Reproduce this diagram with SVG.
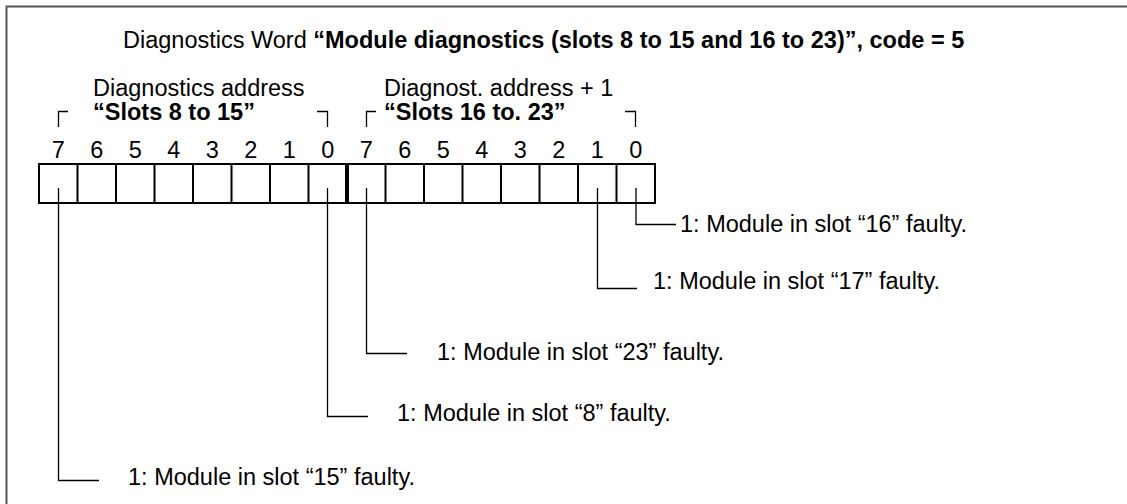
<svg xmlns="http://www.w3.org/2000/svg" width="1127" height="504" viewBox="0 0 1127 504">
<style>
text{font-family:"Liberation Sans",Arial,sans-serif;font-size:23.5px;fill:#000}
.b{font-weight:bold}
.d{text-anchor:middle}
.cell{fill:#fff;stroke:#000;stroke-width:2}
.ln{fill:none;stroke:#000;stroke-width:1.3}
.br{fill:none;stroke:#000;stroke-width:1.3}
</style>
<rect width="1127" height="504" fill="#fff"/>
<path d="M6.5,504 V6.5 H1127" fill="none" stroke="#555" stroke-width="2"/>
<g id="title"><text x="123" y="48">Diagnostics Word <tspan class="b">“Module diagnostics (slots 8 to 15 and 16 to 23)”, code = 5</tspan></text></g>
<g id="byte0-label">
<text x="93" y="96">Diagnostics address</text>
<text x="93" y="120" class="b">“Slots 8 to 15”</text>
<path class="br" d="M58.5,127 V111.5 H68 M317,111.5 H327.5 V127"/>
</g>
<g id="byte1-label">
<text x="384" y="96">Diagnost. address + 1</text>
<text x="384" y="120" class="b">“Slots 16 to. 23”</text>
<path class="br" d="M366.5,127 V111.5 H376 M625,111.5 H635.5 V127"/>
</g>
<g id="bits">
<text class="d" x="58.3" y="158">7</text><text class="d" x="96.8" y="158">6</text><text class="d" x="135.3" y="158">5</text><text class="d" x="173.8" y="158">4</text><text class="d" x="212.3" y="158">3</text><text class="d" x="250.8" y="158">2</text><text class="d" x="289.3" y="158">1</text><text class="d" x="327.8" y="158">0</text>
<text class="d" x="366.3" y="158">7</text><text class="d" x="404.8" y="158">6</text><text class="d" x="443.3" y="158">5</text><text class="d" x="481.8" y="158">4</text><text class="d" x="520.3" y="158">3</text><text class="d" x="558.8" y="158">2</text><text class="d" x="597.3" y="158">1</text><text class="d" x="635.8" y="158">0</text>
</g>
<g id="byte0">
<rect class="cell" x="39" y="164" width="307" height="39"/>
<path class="cell" d="M77.5,164V203M116,164V203M154.5,164V203M193,164V203M231.5,164V203M270,164V203M308.5,164V203"/>
</g>
<g id="byte1">
<rect class="cell" x="348" y="164" width="307" height="39"/>
<path class="cell" d="M385.5,164V203M424,164V203M462.5,164V203M501,164V203M539.5,164V203M578,164V203M616.5,164V203"/>
</g>
<g id="connectors">
<path class="ln" d="M58.5,188 V480.5 H99"/>
<path class="ln" d="M327.5,188 V416.5 H368"/>
<path class="ln" d="M366.5,188 V353.5 H407" stroke-width="2"/>
<path class="ln" d="M597.5,188 V288.5 H637"/>
<path class="ln" d="M636,188 V224.5 H676"/>
</g>
<g id="notes">
<text x="680" y="232">1: Module in slot “16” faulty.</text>
<text x="653" y="289">1: Module in slot “17” faulty.</text>
<text x="437" y="360">1: Module in slot “23” faulty.</text>
<text x="397" y="421">1: Module in slot “8” faulty.</text>
<text x="128" y="485">1: Module in slot “15” faulty.</text>
</g>
</svg>
